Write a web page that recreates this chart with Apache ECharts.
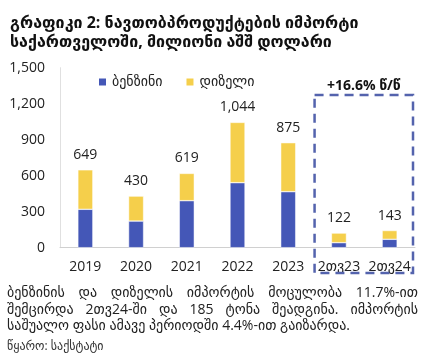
<!DOCTYPE html>
<html>
<head>
<meta charset="utf-8">
<script src="https://cdn.jsdelivr.net/npm/echarts@6/dist/echarts.min.js"></script>
<style>
html,body{margin:0;padding:0;background:#fff;}
#wrap{position:relative;width:432px;height:363px;overflow:hidden;font-family:"Open Sans","DejaVu Sans",sans-serif;color:#1a1a1a;}
#chart{position:absolute;left:0;top:0;width:432px;height:363px;}
#title{position:absolute;left:10px;top:13px;font-size:16px;font-weight:bold;line-height:19px;color:#111;}
#para{position:absolute;left:7px;top:284px;width:411px;font-size:14px;line-height:16.5px;color:#222;}
#para div{text-align:justify;text-align-last:justify;white-space:nowrap;}
#para div.last{text-align:left;text-align-last:left;}
#src{position:absolute;left:7px;top:337px;font-size:12px;color:#333;}
</style>
</head>
<body>
<div id="wrap">
<div id="chart"></div>
<div id="title">გრაფიკი 2: ნავთობპროდუქტების იმპორტი<br>საქართველოში, მილიონი აშშ დოლარი</div>
<div id="para">
<div>ბენზინის და დიზელის იმპორტის მოცულობა 11.7%-ით</div>
<div>შემცირდა 2თვ24-ში და 185 ტონა შეადგინა. იმპორტის</div>
<div class="last">საშუალო ფასი ამავე პერიოდში 4.4%-ით გაიზარდა.</div>
</div>
<div id="src">წყარო: საქსტატი</div>
</div>
<script>
var categories = ["2019","2020","2021","2022","2023","2თვ23","2თვ24"];
var petrol = [320, 222, 392, 542, 467, 42, 70];
var diesel = [329, 208, 227, 502, 408, 80, 73];
var yTicks = [0, 300, 600, 900, 1200, 1500];
var seriesNames = ["ბენზინი", "დიზელი"];
var boxLabel = "+16.6% წ/წ";

var totals = petrol.map(function(v,i){return v + diesel[i];});
var chart = echarts.init(document.getElementById('chart'), null, {renderer:'canvas'});
var fontFam = '"Open Sans","DejaVu Sans",sans-serif';
chart.setOption({
  animation:false,
  grid:{left:60, right:17, top:67.7, bottom:115.3},
  legend:{
    data:seriesNames, left:92, top:70, itemWidth:9, itemHeight:9, itemGap:22,
    icon:'rect', textStyle:{fontSize:14, color:'#222', fontFamily:fontFam}
  },
  xAxis:{
    type:'category', data:categories,
    axisLine:{lineStyle:{color:'#d0d0d0'}}, axisTick:{show:false},
    axisLabel:{fontSize:14, color:'#222', margin:12, interval:0, fontFamily:fontFam}
  },
  yAxis:{
    type:'value', min:yTicks[0], max:yTicks[yTicks.length-1], interval:300,
    axisLine:{show:true, lineStyle:{color:'#e0e0e0'}}, splitLine:{show:false},
    axisLabel:{fontSize:14, color:'#222', margin:15, fontFamily:fontFam,
      formatter:function(v){return v.toLocaleString('en-US');}}
  },
  series:[
    {name:seriesNames[0], type:'bar', stack:'a', data:petrol, barWidth:15,
     itemStyle:{color:'#4457b7', borderColor:'#fff', borderWidth:0.5}},
    {name:seriesNames[1], type:'bar', stack:'a', data:diesel, barWidth:15,
     itemStyle:{color:'#f5cf4b', borderColor:'#fff', borderWidth:0.5},
     label:{show:true, position:'top', distance:8, fontSize:14, color:'#222', fontFamily:fontFam,
       formatter:function(p){return totals[p.dataIndex].toLocaleString('en-US');}}}
  ]
});
var c1 = chart.convertToPixel({xAxisIndex:0}, categories[4]);
var c2 = chart.convertToPixel({xAxisIndex:0}, categories[5]);
var c3 = chart.convertToPixel({xAxisIndex:0}, categories[6]);
var half = (c2 - c1)/2;
var x0 = c2 - half + 1, x1 = c3 + half - 2;
var yTop = 95, yBot = 273;
chart.setOption({
  graphic:[
    {type:'rect', shape:{x:x0, y:yTop, width:x1-x0, height:yBot-yTop}, z:10,
     style:{fill:'none', stroke:'#5463ad', lineWidth:2.5, lineDash:[9,6]}},
    {type:'text', x:(x0+x1)/2, y:yTop-9, z:10,
     style:{text:boxLabel, fill:'#111', font:'bold 14px '+fontFam, align:'center', verticalAlign:'middle'}}
  ]
});
</script>
</body>
</html>
